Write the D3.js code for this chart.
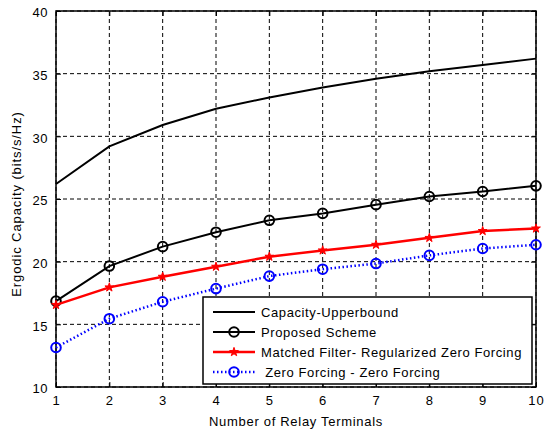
<!DOCTYPE html>
<html>
<head>
<meta charset="utf-8">
<script src="https://cdn.jsdelivr.net/npm/d3@7"></script>
<style>
  body { margin: 0; background: #fff; }
  text { font-family: "Liberation Sans", Arial, sans-serif; }
</style>
</head>
<body>
<div id="chart"></div>
<script>
// values
const relays = [1, 2, 3, 4, 5, 6, 7, 8, 9, 10];
const upperbound = [26.2, 29.2, 30.9, 32.2, 33.1, 33.9, 34.6, 35.2, 35.7, 36.2];
const proposed = [16.85, 19.65, 21.2, 22.35, 23.3, 23.85, 24.55, 25.2, 25.6, 26.05];
const mfRzf = [16.55, 17.95, 18.8, 19.6, 20.4, 20.9, 21.35, 21.9, 22.45, 22.65];
const zfZf = [13.15, 15.45, 16.8, 17.85, 18.85, 19.4, 19.85, 20.5, 21.05, 21.35];
const xTicks = [1, 2, 3, 4, 5, 6, 7, 8, 9, 10];
const yTicks = [10, 15, 20, 25, 30, 35, 40];
const seriesNames = ["Capacity-Upperbound", "Proposed Scheme",
  "Matched Filter- Regularized Zero Forcing", " Zero Forcing - Zero Forcing"];

const width = 551, height = 434;
const margin = {top: 11, right: 15, bottom: 47, left: 56};

const svg = d3.select("#chart").append("svg")
  .attr("width", width).attr("height", height);

const x = d3.scaleLinear().domain([1, 10]).range([margin.left, width - margin.right]);
const y = d3.scaleLinear().domain([10, 40]).range([height - margin.bottom, margin.top]);

// grid
svg.append("g")
  .selectAll("line")
  .data(xTicks)
  .join("line")
  .attr("x1", d => x(d)).attr("x2", d => x(d))
  .attr("y1", y(10)).attr("y2", y(40))
  .attr("stroke", "#000").attr("stroke-width", 1).attr("stroke-dasharray", "4,3");
svg.append("g")
  .selectAll("line")
  .data(yTicks)
  .join("line")
  .attr("x1", x(1)).attr("x2", x(10))
  .attr("y1", d => y(d)).attr("y2", d => y(d))
  .attr("stroke", "#000").attr("stroke-width", 1).attr("stroke-dasharray", "4,3");

// axes, ticks inside like matlab
svg.append("g")
  .attr("transform", `translate(0,${y(10)})`)
  .call(d3.axisBottom(x).tickValues(xTicks).tickSize(-5).tickPadding(9).tickSizeOuter(0))
  .call(g => g.select(".domain").remove())
  .call(g => g.selectAll("text").attr("font-size", 13).attr("letter-spacing", 1).attr("fill", "#000"));
svg.append("g")
  .attr("transform", `translate(${x(1)},0)`)
  .call(d3.axisLeft(y).tickValues(yTicks).tickSize(-5).tickPadding(8).tickSizeOuter(0))
  .call(g => g.select(".domain").remove())
  .call(g => g.selectAll("text").attr("font-size", 13).attr("letter-spacing", 0.5).attr("dy", "0.45em").attr("fill", "#000"));
svg.append("g")
  .attr("transform", `translate(0,${y(40)})`)
  .call(d3.axisTop(x).tickValues(xTicks).tickSize(-5).tickFormat("").tickSizeOuter(0))
  .call(g => g.select(".domain").remove());
svg.append("g")
  .attr("transform", `translate(${x(10)},0)`)
  .call(d3.axisRight(y).tickValues(yTicks).tickSize(-5).tickFormat("").tickSizeOuter(0))
  .call(g => g.select(".domain").remove());

svg.append("rect")
  .attr("x", x(1)).attr("y", y(40))
  .attr("width", x(10) - x(1)).attr("height", y(10) - y(40))
  .attr("fill", "none").attr("stroke", "#000").attr("stroke-width", 1.5);

const line = d3.line().x((d, i) => x(relays[i])).y(d => y(d));

const series = [
  {values: upperbound, color: "#000", width: 2, dash: null, marker: null},
  {values: proposed, color: "#000", width: 2, dash: null, marker: "circle"},
  {values: mfRzf, color: "#ff0000", width: 2.5, dash: null, marker: "star"},
  {values: zfZf, color: "#0000ff", width: 2.5, dash: "1.5,2.5", marker: "circle"}
];

function drawMarker(g, type, color) {
  if (type === "circle") {
    g.append("circle").attr("r", 4.8)
      .attr("fill", "none").attr("stroke", color).attr("stroke-width", 2);
  } else if (type === "star") {
    g.append("path").attr("d", d3.symbol(d3.symbolStar, 24)())
      .attr("fill", color).attr("stroke", color).attr("stroke-width", 1);
  }
}

series.forEach(s => {
  svg.append("path")
    .datum(s.values)
    .attr("d", line)
    .attr("fill", "none")
    .attr("stroke", s.color)
    .attr("stroke-width", s.width)
    .attr("stroke-dasharray", s.dash);
  if (s.marker) {
    svg.append("g")
      .selectAll("g")
      .data(s.values)
      .join("g")
      .attr("transform", (d, i) => `translate(${x(relays[i])},${y(d)})`)
      .each(function () { drawMarker(d3.select(this), s.marker, s.color); });
  }
});

// legend
const legend = svg.append("g").attr("transform", "translate(203,297)");
legend.append("rect")
  .attr("width", 329).attr("height", 87)
  .attr("fill", "#fff").attr("stroke", "#000").attr("stroke-width", 1.5);
series.forEach((s, i) => {
  const ly = 15 + i * 20;
  legend.append("line")
    .attr("x1", 10).attr("x2", 52).attr("y1", ly).attr("y2", ly)
    .attr("stroke", s.color).attr("stroke-width", s.width)
    .attr("stroke-dasharray", s.dash);
  if (s.marker) {
    const m = legend.append("g").attr("transform", `translate(31,${ly})`);
    drawMarker(m, s.marker, s.color);
  }
  legend.append("text")
    .attr("x", 58).attr("y", ly + 4.5)
    .attr("font-size", 13)
    .attr("letter-spacing", 0.6)
    .attr("xml:space", "preserve")
    .style("white-space", "pre")
    .text(seriesNames[i]);
});

// axis titles
svg.append("text")
  .attr("x", (x(1) + x(10)) / 2).attr("y", 426)
  .attr("text-anchor", "middle").attr("font-size", 13)
  .attr("letter-spacing", 0.7)
  .text("Number of Relay Terminals");
svg.append("text")
  .attr("transform", `translate(21,204) rotate(-90)`)
  .attr("text-anchor", "middle").attr("font-size", 13)
  .attr("letter-spacing", 0.9)
  .text("Ergodic Capacity (bits/s/Hz)");
</script>
</body>
</html>
